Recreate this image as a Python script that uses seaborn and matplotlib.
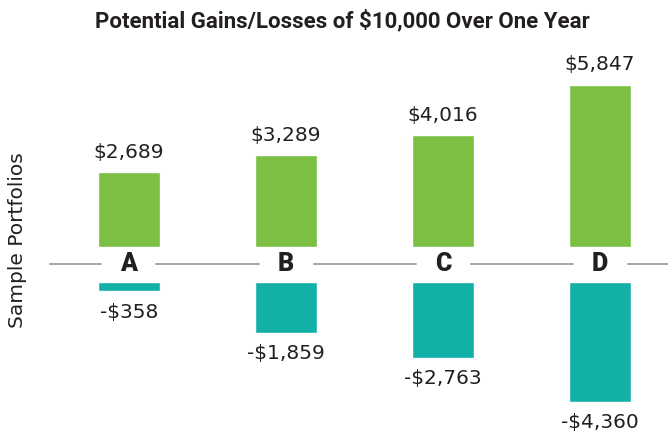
import matplotlib.pyplot as plt
import seaborn as sns
import pandas as pd

portfolios = ["A", "B", "C", "D"]
gains = [2689, 3289, 4016, 5847]
losses = [-358, -1859, -2763, -4360]

title = "Potential Gains/Losses of $10,000 Over One Year"
ylabel = "Sample Portfolios"

green = "#7bc043"
teal = "#13b0a7"

sns.set_style("white")
plt.rcParams["font.family"] = ["DejaVu Sans"]

df = pd.DataFrame({"portfolio": portfolios, "gain": gains, "loss": losses})

# layout in pixels (figure is 668x432)
W, H = 668, 432
px = 0.0277          # pixels per dollar
line_y = 264         # center line, px from top
gap = 17.5           # px between center line and bars
left = 50
top = 50
step = 157           # px between bar centers
first = 129          # px of first bar center

fig = plt.figure(figsize=(W / 100, H / 100), dpi=100)
up_h = line_y - gap - top
dn_h = H - (line_y + gap)
ax1 = fig.add_axes([left / W, (H - line_y + gap) / H, (W - left) / W, up_h / H])
ax2 = fig.add_axes([left / W, 0, (W - left) / W, dn_h / H])

sns.barplot(data=df, x="portfolio", y="gain", color=green, saturation=1,
            width=62 / step, ax=ax1)
sns.barplot(data=df, x="portfolio", y="loss", color=teal, saturation=1,
            width=62 / step, ax=ax2)

xlim = ((left - first) / step, 3 + (W - first - 3 * step) / step)
for ax in (ax1, ax2):
    ax.set_xlim(xlim)
    ax.set_xlabel("")
    ax.set_ylabel("")
    ax.set_xticks([])
    ax.set_yticks([])
    sns.despine(ax=ax, left=True, bottom=True)
ax1.set_ylim(0, up_h / px)
ax2.set_ylim(-dn_h / px, 0)

ax1.bar_label(ax1.containers[0], labels=[f"${v:,}" for v in gains],
              padding=7.5, fontsize=14.5, color="#231f20")
ax2.bar_label(ax2.containers[0], labels=[f"-${abs(v):,}" for v in losses],
              padding=8, fontsize=14.5, color="#231f20")

# center line with breaks for the portfolio letters
yline = -gap / px
half = 27.5 / step
edges = [xlim[0]]
for i in range(len(portfolios)):
    edges += [i - half, i + half]
edges.append(xlim[1])
for a, b in zip(edges[::2], edges[1::2]):
    ax1.plot([a, b], [yline, yline], color="#9d9d9d", lw=1.3, clip_on=False)
for i, name in enumerate(portfolios):
    ax1.text(i, yline, name, ha="center", va="center", fontsize=18,
             fontweight="black", color="#231f20", clip_on=False,
             family=["Roboto", "DejaVu Sans"])

fig.text(342 / W, 1 - 21 / H, title, ha="center", va="center",
         fontsize=16, fontweight="bold", color="#231f20",
         family=["Roboto", "DejaVu Sans"])
fig.text(18 / W, 1 - 240 / H, ylabel, rotation=90, ha="center", va="center",
         fontsize=14.5, color="#231f20")

fig.savefig("out.png", dpi=100)
